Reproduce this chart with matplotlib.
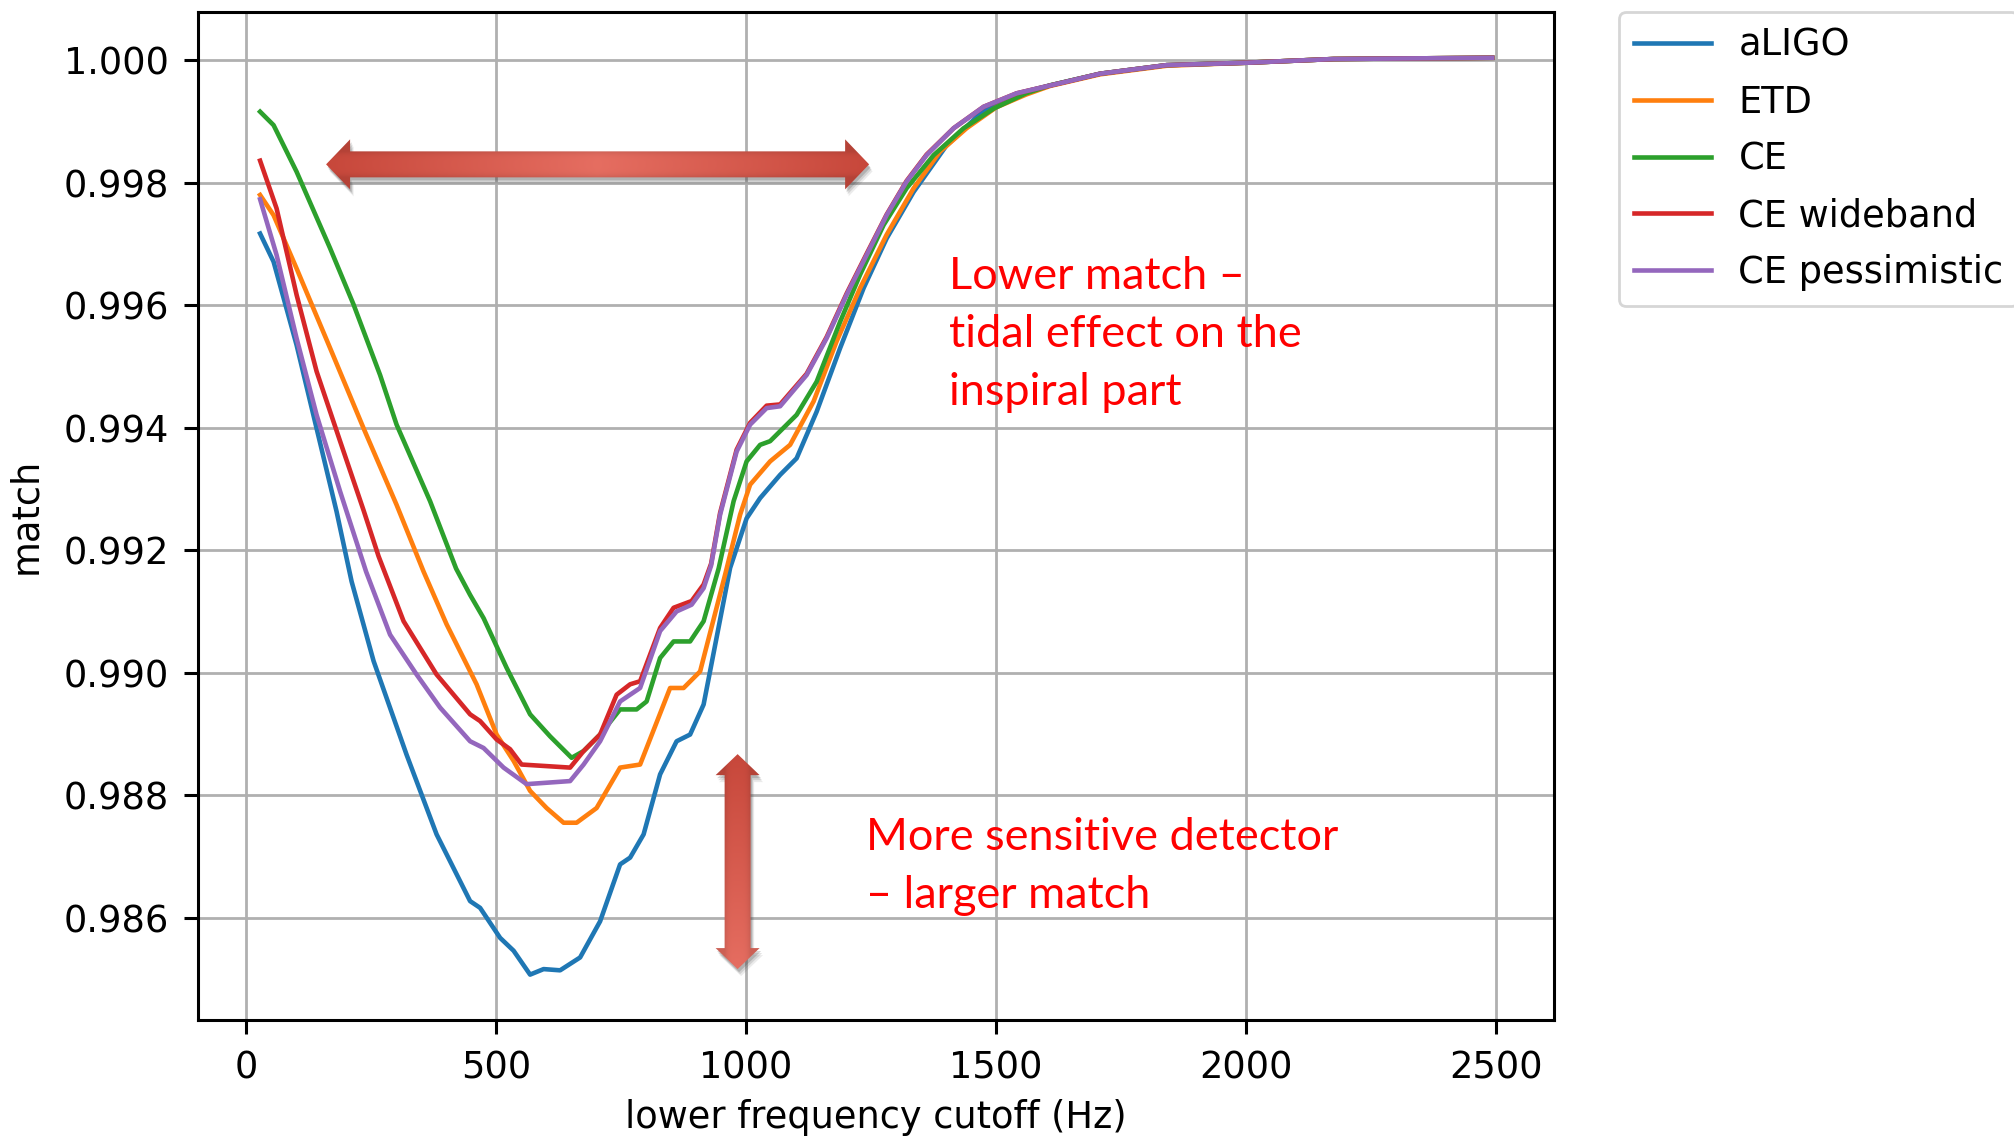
import numpy as np
import matplotlib.pyplot as plt
from matplotlib.patches import Polygon

# match vs lower frequency cutoff for each detector
labels = ['aLIGO', 'ETD', 'CE', 'CE wideband', 'CE pessimistic']

f_aligo = [28, 55, 101, 141, 181, 211, 255, 321, 381, 448, 468, 508, 535, 568, 595,
           628, 668, 708, 748, 768, 795, 828, 861, 888, 915, 968, 1001, 1028, 1068,
           1101, 1141, 1188, 1235, 1281, 1335, 1400, 1475, 1540, 1608, 1708, 1841,
           2003, 2175, 2492]
m_aligo = [0.99717, 0.99671, 0.99535, 0.99399, 0.99263, 0.99149, 0.99019, 0.98866,
           0.98736, 0.98627, 0.98616, 0.98567, 0.98546, 0.98507, 0.98516, 0.98514,
           0.98535, 0.98594, 0.98687, 0.98698, 0.98736, 0.98834, 0.98888, 0.98899,
           0.98948, 0.99171, 0.99252, 0.99285, 0.99323, 0.99350, 0.99426, 0.99530,
           0.99628, 0.99709, 0.99785, 0.99860, 0.99918, 0.99945, 0.99959, 0.99978,
           0.99992, 0.99996, 1.00002, 1.00004]

f_etd = [28, 55, 101, 168, 235, 301, 355, 401, 461, 501, 535, 568, 601, 635, 661,
         701, 748, 788, 848, 875, 908, 958, 988, 1008, 1048, 1088, 1135, 1181, 1228,
         1281, 1335, 1388, 1441, 1500, 1560, 1608, 1708, 1841, 2003, 2175, 2492]
m_etd = [0.99780, 0.99747, 0.99660, 0.99530, 0.99399, 0.99274, 0.99165, 0.99079,
         0.98981, 0.98899, 0.98856, 0.98807, 0.98779, 0.98755, 0.98755, 0.98779,
         0.98845, 0.98850, 0.98975, 0.98975, 0.99002, 0.99160, 0.99258, 0.99307,
         0.99345, 0.99372, 0.99443, 0.99541, 0.99628, 0.99715, 0.99791, 0.99851,
         0.99889, 0.99923, 0.99944, 0.99958, 0.99977, 0.99991, 0.99996, 1.00002,
         1.00004]

f_ce = [28, 55, 101, 168, 215, 268, 301, 368, 420, 448, 475, 521, 568, 608, 651,
        675, 708, 748, 781, 801, 828, 855, 888, 915, 945, 975, 1001, 1028, 1048,
        1101, 1141, 1188, 1228, 1275, 1321, 1375, 1435, 1495, 1560, 1608, 1708,
        1841, 2003, 2175, 2492]
m_ce = [0.99916, 0.99894, 0.99818, 0.99693, 0.99601, 0.99486, 0.99405, 0.99280,
        0.99170, 0.99127, 0.99089, 0.99008, 0.98932, 0.98896, 0.98861, 0.98872,
        0.98899, 0.98940, 0.98940, 0.98953, 0.99024, 0.99051, 0.99051, 0.99084,
        0.99170, 0.99280, 0.99345, 0.99372, 0.99378, 0.99421, 0.99475, 0.99573,
        0.99650, 0.99731, 0.99791, 0.99845, 0.99889, 0.99921, 0.99946, 0.99959,
        0.99978, 0.99992, 0.99996, 1.00002, 1.00004]

f_wide = [28, 61, 101, 141, 188, 235, 265, 315, 381, 448, 468, 501, 528, 551, 648,
          675, 708, 741, 768, 788, 828, 855, 891, 915, 930, 948, 981, 1008, 1041,
          1068, 1121, 1161, 1201, 1241, 1281, 1321, 1361, 1415, 1475, 1541, 1641,
          1708, 1841, 2003, 2175, 2492]
m_wide = [0.99836, 0.99758, 0.99617, 0.99492, 0.99378, 0.99265, 0.99190, 0.99084,
          0.98997, 0.98932, 0.98921, 0.98891, 0.98875, 0.98850, 0.98845, 0.98872,
          0.98899, 0.98964, 0.98981, 0.98986, 0.99073, 0.99106, 0.99117, 0.99144,
          0.99178, 0.99261, 0.99364, 0.99408, 0.99436, 0.99438, 0.99488, 0.99548,
          0.99619, 0.99684, 0.99748, 0.99803, 0.99846, 0.99889, 0.99924, 0.99946,
          0.99965, 0.99978, 0.99992, 0.99996, 1.00002, 1.00004]

f_pess = [28, 61, 101, 141, 188, 240, 288, 341, 388, 448, 475, 515, 561, 648, 675,
          708, 748, 788, 828, 861, 891, 915, 930, 948, 981, 1008, 1041, 1068, 1121,
          1161, 1201, 1241, 1281, 1321, 1361, 1415, 1475, 1541, 1641, 1708, 1841,
          2003, 2175, 2492]
m_pess = [0.99773, 0.99682, 0.99546, 0.99421, 0.99296, 0.99165, 0.99062, 0.98997,
          0.98943, 0.98888, 0.98877, 0.98845, 0.98818, 0.98823, 0.98850, 0.98888,
          0.98953, 0.98975, 0.99068, 0.99100, 0.99111, 0.99138, 0.99175, 0.99258,
          0.99361, 0.99405, 0.99432, 0.99435, 0.99486, 0.99546, 0.99617, 0.99682,
          0.99747, 0.99802, 0.99845, 0.99889, 0.99924, 0.99946, 0.99965, 0.99978,
          0.99992, 0.99996, 1.00002, 1.00004]

plt.rcParams.update({
    'font.size': 26.5,
    'axes.linewidth': 2.2,
    'axes.labelpad': 9,
    'xtick.major.size': 10, 'xtick.major.width': 2.2, 'xtick.major.pad': 11,
    'ytick.major.size': 10, 'ytick.major.width': 2.2, 'ytick.major.pad': 11,
    'grid.linewidth': 2.0, 'grid.color': '#b0b0b0',
    'lines.linewidth': 3.3,
})

fig = plt.figure(figsize=(20.15, 11.38), dpi=100)
ax = fig.add_axes([0.0985, 0.1033, 0.6726, 0.8862])

ax.plot(f_aligo, m_aligo, label=labels[0])
ax.plot(f_etd, m_etd, label=labels[1])
ax.plot(f_ce, m_ce, label=labels[2])
ax.plot(f_wide, m_wide, label=labels[3])
ax.plot(f_pess, m_pess, label=labels[4])

ax.set_xlabel('lower frequency cutoff (Hz)')
ax.set_ylabel('match', labelpad=14)
ax.ticklabel_format(axis='y', useOffset=False)
ax.grid(True)

leg = ax.legend(loc='upper left', bbox_to_anchor=(1.048, 1.0), borderaxespad=0,
                handlelength=2.1, handletextpad=0.75, labelspacing=0.54)
leg.get_frame().set_linewidth(2.0)

xl = ax.get_xlim()
yl = ax.get_ylim()
ax.set_xlim(xl)
ax.set_ylim(yl)


def fat_arrow(ax, p0, p1, shaft, head, head_len, stops, z=4):
    # double headed block arrow, sizes in pixels, shaded along its length
    to_px = ax.transData
    to_data = ax.transData.inverted()
    a = to_px.transform(p0)
    b = to_px.transform(p1)
    L = np.hypot(*(b - a))
    u = (b - a) / L
    n = np.array([-u[1], u[0]])
    prof = [(0, 0), (head_len, head), (head_len, shaft), (L - head_len, shaft),
            (L - head_len, head), (L, 0), (L - head_len, -head),
            (L - head_len, -shaft), (head_len, -shaft), (head_len, -head)]
    pts = np.array([a + s * u + c * n for s, c in prof])

    # soft drop shadow
    for k, al in [(7, 0.10), (5, 0.15), (3, 0.22)]:
        sh = pts + np.array([0.5 * k, -k])
        ax.add_patch(Polygon(to_data.transform(sh), closed=True, fc='0.25',
                             ec='none', alpha=al, zorder=z - 0.1))

    poly = Polygon(to_data.transform(pts), closed=True, fc='none', ec='none', zorder=z)
    ax.add_patch(poly)

    x0, y0 = pts.min(axis=0)
    x1, y1 = pts.max(axis=0)
    xs = np.arange(np.floor(x0), np.ceil(x1) + 1)
    ys = np.arange(np.floor(y0), np.ceil(y1) + 1)
    X, Y = np.meshgrid(xs, ys)
    s = ((X - a[0]) * u[0] + (Y - a[1]) * u[1]) / L
    c = ((X - a[0]) * n[0] + (Y - a[1]) * n[1]) / shaft
    pos = [p for p, _ in stops]
    img = np.zeros(X.shape + (3,))
    for ch in range(3):
        img[..., ch] = np.interp(s, pos, [col[ch] for _, col in stops])
    edge = 1 - 0.10 * np.clip(np.abs(c), 0, 1) ** 4
    img = np.clip(img * edge[..., None], 0, 1)

    d0 = to_data.transform([xs[0], ys[0]])
    d1 = to_data.transform([xs[-1], ys[-1]])
    im = ax.imshow(img, extent=(d0[0], d1[0], d0[1], d1[1]), origin='lower',
                   aspect='auto', interpolation='bilinear', zorder=z)
    im.set_clip_path(poly)


dark = (0.78, 0.28, 0.23)
light = (0.90, 0.43, 0.38)
fat_arrow(ax, (160, 0.99830), (1246, 0.99830), 13, 25, 24,
          [(0, dark), (0.5, light), (1, dark)])
fat_arrow(ax, (983, 0.98867), (983, 0.98516), 13, 22, 21,
          [(0, dark), (1, light)])

ax.set_xlim(xl)
ax.set_ylim(yl)

# baseline of the last line sets the vertical position
ax.text(1405, 0.99437, 'Lower match \u2013\ntidal effect on the\ninspiral part',
        color='red', fontsize=32.5, family=['Lato', 'DejaVu Sans'],
        ha='left', va='baseline', linespacing=1.52, zorder=5)
ax.text(1240, 0.98616, 'More sensitive detector\n\u2013 larger match',
        color='red', fontsize=32.5, family=['Lato', 'DejaVu Sans'],
        ha='left', va='baseline', linespacing=1.52, zorder=5)

fig.savefig('out.png', dpi=100)
